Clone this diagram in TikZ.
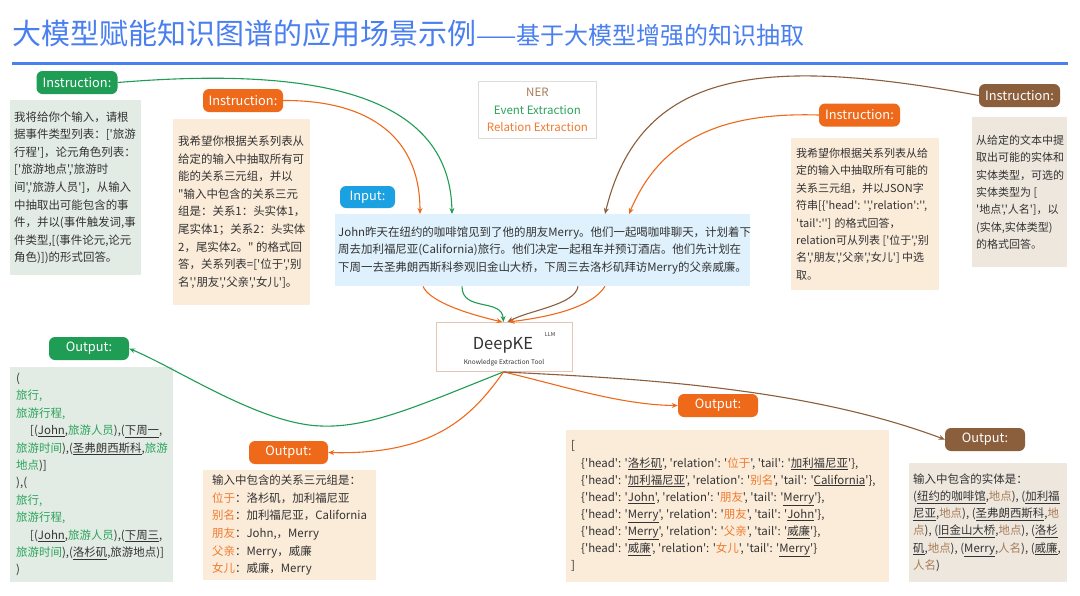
\documentclass[tikz,border=0pt]{standalone}
\usepackage{fontspec}
\newfontfamily\cjk{Noto Sans CJK SC}
\usetikzlibrary{arrows.meta,calc}
\definecolor{titleblue}{HTML}{4A7FEF}
\definecolor{gfill}{HTML}{E3ECE4}
\definecolor{ofill}{HTML}{FBEBD9}
\definecolor{bfill}{HTML}{EEE7DE}
\definecolor{ifill}{HTML}{DFF1FC}
\definecolor{gdark}{HTML}{1F9D55}
\definecolor{gtext}{HTML}{2BA35C}
\definecolor{odark}{HTML}{EE6A1A}
\definecolor{otext}{HTML}{F07B30}
\definecolor{bdark}{HTML}{8B5E3C}
\definecolor{btext}{HTML}{A87C55}
\definecolor{inblue}{HTML}{1BA1E2}
\definecolor{dkborder}{HTML}{E6C4B4}
\definecolor{legborder}{HTML}{DDDDDD}
\definecolor{textgray}{HTML}{333333}
\newcommand{\ulx}[1]{\underline{#1}}
\newcommand{\G}[1]{\textcolor{gtext}{#1}}
\newcommand{\Or}[1]{\textcolor{otext}{#1}}
\newcommand{\Br}[1]{\textcolor{btext}{#1}}
\begin{document}
\begin{tikzpicture}[x=1pt,y=-1pt,
  pill/.style={rounded corners=6pt, minimum width=81pt, minimum height=23pt, inner sep=0pt, text=white, font=\cjk\fontsize{12.8}{14}\selectfont},
  boxx/.style={anchor=north west, inner sep=0pt, draw=none},
  txt/.style={inner sep=0pt, align=left, anchor=west, text=textgray, font=\cjk\fontsize{11.45}{17.6}\selectfont},
  smalltxt/.style={txt, font=\cjk\fontsize{11}{17.4}\selectfont},
  conn/.style={line width=1.1pt, -{Stealth[length=6pt,width=5pt]}},
]
\path[use as bounding box, fill=white] (0,0) rectangle (1080,595);

% title
\node[anchor=west, inner sep=0pt, text=titleblue, font=\cjk] (title) at (12,33)
  {\fontsize{29}{30}\selectfont 大模型赋能知识图谱的应用场景示例\fontsize{24}{26}\selectfont ——基于大模型增强的知识抽取};
\draw[titleblue, line width=3pt] (12,63) -- (1068,63);

% legend
\node[boxx, draw=legborder, line width=0.8pt, minimum width=118pt, minimum height=57pt] (leg) at (478,81) {};
\node[inner sep=0pt, align=center, font=\cjk\fontsize{11.5}{17.5}\selectfont] (legt) at (leg.center)
  {\textcolor{btext}{NER}\\\textcolor{gtext}{Event Extraction}\\\textcolor{otext}{Relation Extraction}};

% instruction pills
\node[pill, fill=gdark] (gip) at (77,82.5) {Instruction:};
\node[pill, fill=odark, minimum width=80pt] (oip) at (243,100.5) {Instruction:};
\node[pill, fill=odark] (roip) at (859.5,115) {Instruction:};
\node[pill, fill=bdark] (bip) at (1019.5,95.5) {Instruction:};
\node[pill, fill=inblue, minimum width=55pt, minimum height=22pt] (inpill) at (367.5,197) {Input:};

% instruction boxes
\node[boxx, fill=gfill, minimum width=131pt, minimum height=175pt] (gib) at (10,100) {};
\node[txt] (gibt) at ([xshift=4pt]gib.west) {我将给你个输入，请根\\
据事件类型列表：{[}'旅游\\
行程']，论元角色列表：\\
{[}'旅游地点','旅游时\\
间','旅游人员']，从输入\\
中抽取出可能包含的事\\
件，并以(事件触发词,事\\
件类型,{[}(事件论元,论元\\
角色)])的形式回答。};

\node[boxx, fill=ofill, minimum width=137pt, minimum height=186pt] (oib) at (173,119) {};
\node[txt] (oibt) at ([xshift=5pt]oib.west) {我希望你根据关系列表从\\
给定的输入中抽取所有可\\
能的关系三元组，并以\\
"输入中包含的关系三元\\
组是：关系1：头实体1，\\
尾实体1；关系2：头实体\\
2，尾实体2。" 的格式回\\
答，关系列表={[}'位于','别\\
名','朋友','父亲','女儿']。};

\node[boxx, fill=ofill, minimum width=148pt, minimum height=152pt] (roib) at (791,138) {};
\node[smalltxt] (roibt) at ([xshift=5pt]roib.west) {我希望你根据关系列表从给\\
定的输入中抽取所有可能的\\
关系三元组，并以JSON字\\
符串{[}\{'head': '','relation':'',\\
'tail':''] 的格式回答，\\
relation可从列表 {[}'位于','别\\
名','朋友','父亲','女儿'] 中选\\
取。};

\node[boxx, fill=bfill, minimum width=95pt, minimum height=150pt] (bib) at (972,117) {};
\node[smalltxt] (bibt) at ([xshift=4pt]bib.west) {从给定的文本中提\\
取出可能的实体和\\
实体类型，可选的\\
实体类型为 {[}\\
'地点','人名']，以\\
(实体,实体类型)\\
的格式回答。};

% input
\node[boxx, fill=ifill, minimum width=415pt, minimum height=72pt] (inp) at (335,214) {};
\node[txt] (inpt) at ([xshift=3pt]inp.west) {John昨天在纽约的咖啡馆见到了他的朋友Merry。他们一起喝咖啡聊天，计划着下\\
周去加利福尼亚(California)旅行。他们决定一起租车并预订酒店。他们先计划在\\
下周一去圣弗朗西斯科参观旧金山大桥，下周三去洛杉矶拜访Merry的父亲威廉。};

% DeepKE
\node[boxx, draw=dkborder, line width=0.9pt, fill=white, minimum width=136pt, minimum height=49pt] (dk) at (436,322) {};
\node[inner sep=0pt, text=textgray, font=\cjk\fontsize{16.5}{20}\selectfont] (dkt) at (503,345) {DeepKE};
\node[inner sep=0pt, text=textgray, font=\cjk\fontsize{5.5}{7}\selectfont] (llm) at (550,334) {LLM};
\node[inner sep=0pt, text=textgray, font=\cjk\fontsize{6.5}{8}\selectfont] (ket) at (504,363) {Knowledge Extraction Tool};

% output pills
\node[pill, fill=gdark, minimum width=80pt] (gop) at (89,348.5) {Output:};
\node[pill, fill=odark, minimum width=79pt] (oop1) at (288.5,452.5) {Output:};
\node[pill, fill=odark, minimum width=80pt] (oop2) at (718,405.5) {Output:};
\node[pill, fill=bdark, minimum width=80pt] (bop) at (985,439.5) {Output:};

% output boxes
\node[boxx, fill=gfill, minimum width=163pt, minimum height=215pt] (gob) at (10,367) {};
\node[txt, font=\cjk\fontsize{11.45}{17.4}\selectfont] (gobt) at ([xshift=6pt]gob.west) {(\\
\G{旅行,}\\
\G{旅游行程,}\\
\hspace*{14pt}{[}(\ulx{John},\G{旅游人员}),(\ulx{下周一},\\
\G{旅游时间}),(\ulx{圣弗朗西斯科},\G{旅游}\\
\G{地点})]\\
),(\\
\G{旅行,}\\
\G{旅游行程,}\\
\hspace*{14pt}{[}(\ulx{John},\G{旅游人员}),(\ulx{下周三},\\
\G{旅游时间}),(\ulx{洛杉矶},旅游地点)]\\
)};

\node[boxx, fill=ofill, minimum width=173pt, minimum height=110pt] (oob1) at (203,470) {};
\node[txt] (oob1t) at ([xshift=9pt]oob1.west) {输入中包含的关系三元组是：\\
\Or{位于}：洛杉矶，加利福尼亚\\
\Or{别名}：加利福尼亚，California\\
\Or{朋友}：John,，Merry\\
\Or{父亲}：Merry，威廉\\
\Or{女儿}：威廉，Merry};

\node[boxx, fill=ofill, minimum width=323pt, minimum height=152pt] (oob2) at (566,430) {};
\node[txt, font=\cjk\fontsize{11.45}{17.1}\selectfont] (oob2t) at ([xshift=5pt]oob2.west) {{[}\\
\hspace*{10pt}\{'head': '\ulx{洛杉矶}', 'relation': '\Or{位于}', 'tail': '\ulx{加利福尼亚}'\},\\
\hspace*{10pt}\{'head': '\ulx{加利福尼亚}', 'relation': '\Or{别名}', 'tail': '\ulx{California}'\},\\
\hspace*{10pt}\{'head': '\ulx{John}', 'relation': '\Or{朋友}', 'tail': '\ulx{Merry}'\},\\
\hspace*{10pt}\{'head': '\ulx{Merry}', 'relation': '\Or{朋友}', 'tail': '\ulx{John}'\},\\
\hspace*{10pt}\{'head': '\ulx{Merry}', 'relation': '\Or{父亲}', 'tail': '\ulx{威廉}'\},\\
\hspace*{10pt}\{'head': '\ulx{威廉}', 'relation': '\Or{女儿}', 'tail': '\ulx{Merry}'\}\\
]};

\node[boxx, fill=bfill, minimum width=158pt, minimum height=119pt] (bob) at (909,463) {};
\node[txt, font=\cjk\fontsize{11.45}{17.1}\selectfont] (bobt) at ([xshift=4pt]bob.west) {输入中包含的实体是：\\
(\ulx{纽约的咖啡馆},\Br{地点}), (\ulx{加利福}\\
\ulx{尼亚},\Br{地点}), (\ulx{圣弗朗西斯科},\Br{地}\\
\Br{点}), (\ulx{旧金山大桥},\Br{地点}), (\ulx{洛杉}\\
\ulx{矶},\Br{地点}), (\ulx{Merry},\Br{人名}), (\ulx{威廉},\\
\Br{人名})};

% connector end points
\coordinate (inA) at ($(inp.north west)+(85,0)$);
\coordinate (inB) at ($(inp.north west)+(117,0)$);
\coordinate (inC) at ($(inp.north west)+(270,0)$);
\coordinate (inD) at ($(inp.north west)+(294,0)$);
\coordinate (outA) at ($(inp.south west)+(88,0)$);
\coordinate (outB) at ($(inp.south west)+(127,0)$);
\coordinate (outC) at ($(inp.south west)+(243,0)$);
\coordinate (outD) at ($(inp.south west)+(270,0)$);
\coordinate (dkA) at ($(dk.north)+(-2,0)$);
\coordinate (dkB) at ($(dk.north)+(-1,0)$);
\coordinate (dkC) at ($(dk.north)+(3,0)$);
\coordinate (dkD) at ($(dk.north)+(4,0)$);
\coordinate (dkS) at ($(dk.south)+(-1,0)$);

% instruction -> input
\draw[conn, gdark] (gip.east) .. controls (330,65) and (450,100) .. (inB);
\draw[conn, odark] (oip.east) .. controls (360,100) and (420,130) .. (inA);
\draw[conn, bdark] (bip.west) .. controls (760,55) and (640,70) .. (inC);
\draw[conn, odark] (roip.west) .. controls (720,112) and (660,140) .. (inD);

% input -> DeepKE
\draw[conn, odark] (outA) .. controls (430,302) and (468,314) .. (dkA);
\draw[conn, gdark] (outB) .. controls (462,312) and (502,298) .. (dkB);
\draw[conn, bdark] (outC) .. controls (575,305) and (530,310) .. (dkC);
\draw[conn, odark] (outD) .. controls (590,310) and (540,318) .. (dkD);

% DeepKE -> outputs
\draw[conn, gdark] (dkS) .. controls (420,405) and (370,428) .. (321,426) .. controls (260,424) and (180,370) .. (gop.east);
\draw[conn, odark] (dkS) .. controls (470,420) and (430,455) .. (oop1.east);
\draw[conn, odark] (dkS) .. controls (560,385) and (620,405) .. (oop2.west);
\draw[conn, bdark] (dkS) .. controls (620,378) and (800,385) .. (bop.west);
\end{tikzpicture}
\end{document}
